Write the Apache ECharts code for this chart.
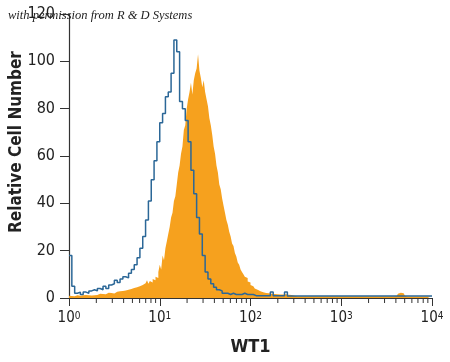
<!DOCTYPE html>
<html>
<head>
<meta charset="utf-8">
<script src="https://cdn.jsdelivr.net/npm/echarts@6/dist/echarts.min.js"></script>
<style>
html,body{margin:0;padding:0;background:#fff;}
#c{width:450px;height:362px;}
</style>
</head>
<body>
<div id="c"></div>
<script>
// Histogram channels: bins per decade on the log fluorescence scale
const blueBinsPerDecade = 32;
const orangeBinsPerDecade = 64;

// Isotype control (blue outline), 32 bins per decade from 10^0 to 10^4
const blueCounts = [
  18, 5, 2, 2.5, 1.5, 2.5, 2, 3, 3.5, 3,
  4, 3.5, 5, 4, 5.5, 6, 7.5, 6.5, 8, 9,
  8.5, 10.5, 12, 14, 17, 21, 26, 33, 41, 50,
  58, 66, 74, 78, 85, 87, 95, 109, 104, 83,
  80, 75, 66, 54, 44, 34, 27, 18, 11, 8,
  6, 4.5, 3.5, 3, 2, 2, 1.5, 2, 1.5, 1.5,
  1.5, 2, 1.5, 1.5, 1.5, 1, 1, 1, 1, 1,
  1, 2.5, 1, 1, 1, 1, 2.5, 0.8, 0.8, 0.8,
  0.8, 0.8, 0.8, 0.8, 0.8, 0.8, 0.8, 0.8, 0.8, 0.8,
  0.8, 0.8, 0.8, 0.8, 0.8, 0.8, 0.8, 0.8, 0.8, 0.8,
  0.8, 0.8, 0.8, 0.8, 0.8, 0.8, 0.8, 0.8, 0.8, 0.8,
  0.8, 0.8, 0.8, 0.8, 0.8, 0.8, 0.8, 0.8, 0.8, 0.8,
  0.8, 0.8, 0.8, 0.8, 0.8, 0.8, 0.8, 0.8
];

// WT1 antibody (orange filled), 64 bins per decade from 10^0 to 10^4
const orangeCounts = [
  1, 0.8, 1, 0.7, 1, 1.2, 0.8, 1, 0.9, 1.2,
  1, 1.3, 0.9, 1.2, 1.5, 1.1, 1.4, 1.2, 1.6, 1.3,
  1.5, 1.8, 1.4, 1.7, 2, 1.6, 1.9, 2.2, 1.7, 2.1,
  2.4, 1.9, 2.3, 2.6, 2.1, 2.8, 2.4, 3, 2.6, 3.2,
  2.8, 3.5, 3.1, 3.8, 3.3, 4.2, 3.7, 4.5, 4, 5,
  4.4, 5.5, 5, 6.2, 5.4, 7.5, 6, 7.2, 6.6, 8,
  7.5, 9, 8.5, 11, 14, 12, 18, 16, 21, 24,
  27, 30, 34, 36, 41, 43, 48, 53, 56, 61,
  64, 71, 73, 80, 84, 87, 91, 86, 92, 95,
  97, 103, 96, 93, 89, 92, 87, 84, 81, 76,
  73, 69, 64, 61, 56, 53, 48, 46, 42, 39,
  36, 33, 31, 28, 26, 23, 22, 19, 17.5, 15,
  14, 12, 11, 10, 9, 8.5, 7, 6.5, 5.5, 5,
  4.3, 4, 3.5, 3.2, 2.8, 2.6, 2.4, 2.6, 2.1, 2.3,
  2, 2.2, 1.8, 2, 1.7, 1.9, 1.6, 1.8, 1.5, 1.7,
  1.5, 1.4, 1.6, 1.3, 1.4, 1.2, 1.3, 1, 0.9, 0.8,
  0.7, 0.6, 0.7, 0.6, 0.7, 0.6, 0.7, 0.6, 0.7, 0.6,
  0.7, 0.6, 0.7, 0.6, 0.7, 0.6, 0.7, 0.6, 0.7, 0.6,
  0.7, 0.6, 0.7, 0.6, 0.7, 0.6, 0.7, 0.6, 0.7, 0.6,
  0.7, 0.6, 0.7, 0.6, 0.7, 0.6, 0.7, 0.6, 0.7, 0.6,
  0.7, 0.6, 0.7, 0.6, 0.7, 0.6, 0.7, 0.6, 0.7, 0.6,
  0.7, 0.6, 0.7, 0.6, 0.7, 0.6, 0.7, 0.6, 0.7, 0.6,
  0.7, 0.6, 0.7, 0.6, 0.7, 0.6, 0.7, 0.6, 0.7, 0.6,
  0.8, 1.2, 1.8, 2.2, 1.6, 2, 1.2, 0.8, 0.6, 0.6,
  0.6, 0.6, 0.6, 0.6, 0.6, 0.6, 0.6, 0.6, 0.6, 0.6,
  0.6, 0.6, 0.6, 0.6, 0.6, 0.6
];

// Axis ticks
const yTicks = [0, 20, 40, 60, 80, 100, 120];
const xMinorTicks = [2,3,4,5,6,7,8,9, 20,30,40,50,60,70,80,90,
  200,300,400,500,600,700,800,900, 2000,3000,4000,5000,6000,7000,8000,9000];

const xTitle = 'WT1';
const yTitle = 'Relative Cell Number';
const note = 'with permission from R & D Systems';

function stepData(counts, perDecade) {
  const pts = counts.map((v, i) => [Math.pow(10, i / perDecade), v]);
  pts.push([Math.pow(10, counts.length / perDecade), counts[counts.length - 1]]);
  return pts;
}

const tickFont = "'Liberation Sans Narrow', 'DejaVu Sans Condensed', 'Roboto', sans-serif";
const axisColor = '#333';

const chart = echarts.init(document.getElementById('c'), null, {renderer: 'canvas'});
chart.setOption({
  animation: false,
  backgroundColor: '#fff',
  grid: {left: 69, right: 18, top: 14, bottom: 64},
  xAxis: {
    type: 'log', logBase: 10, min: 1, max: 10000,
    splitLine: {show: false},
    axisLine: {lineStyle: {color: axisColor, width: 1.2}},
    axisTick: {length: 8, lineStyle: {color: axisColor, width: 1}},
    axisLabel: {
      margin: 13,
      formatter: v => '{b|10}{s|' + Math.round(Math.log10(v)) + '}',
      rich: {
        b: {fontFamily: tickFont, fontSize: 15, color: '#222', verticalAlign: 'bottom'},
        s: {fontFamily: tickFont, fontSize: 10, color: '#222', verticalAlign: 'top'}
      }
    },
    name: xTitle, nameLocation: 'middle', nameGap: 40,
    nameTextStyle: {fontFamily: tickFont, fontSize: 18, fontWeight: 'bold', color: '#222'}
  },
  yAxis: {
    type: 'value', min: yTicks[0], max: yTicks[yTicks.length - 1], interval: 20,
    splitLine: {show: false},
    axisLine: {show: true, lineStyle: {color: axisColor, width: 1.2}},
    axisTick: {show: true, length: 9, lineStyle: {color: axisColor, width: 1}},
    axisLabel: {margin: 14, fontFamily: tickFont, fontSize: 16, color: '#222'}
  },
  graphic: [
    {
      type: 'text', left: 8, top: 9, z: 100,
      style: {text: note, font: "italic 12.5px 'Liberation Serif', 'DejaVu Serif', serif", fill: '#222'}
    },
    {
      type: 'text', x: 17, y: 142, rotation: Math.PI / 2, z: 100,
      style: {text: yTitle, font: "bold 17px " + tickFont, fill: '#222', align: 'center', verticalAlign: 'middle'}
    }
  ],
  series: [
    {
      type: 'line', step: 'end', symbol: 'none', z: 2,
      data: stepData(orangeCounts, orangeBinsPerDecade),
      lineStyle: {width: 0, color: '#F6A11E'},
      areaStyle: {color: '#F6A11E', opacity: 1}
    },
    {
      type: 'line', step: 'end', symbol: 'none', z: 3,
      data: stepData(blueCounts, blueBinsPerDecade),
      lineStyle: {width: 1.5, color: '#2B6797'}
    },
    {
      type: 'custom', z: 4, clip: false, silent: true,
      data: xMinorTicks.map(v => [v, 0]),
      renderItem: function (params, api) {
        const p = api.coord([api.value(0), 0]);
        return {
          type: 'line',
          shape: {x1: p[0], y1: p[1], x2: p[0], y2: p[1] + 5},
          style: {stroke: axisColor, lineWidth: 1}
        };
      }
    }
  ]
});
</script>
</body>
</html>
